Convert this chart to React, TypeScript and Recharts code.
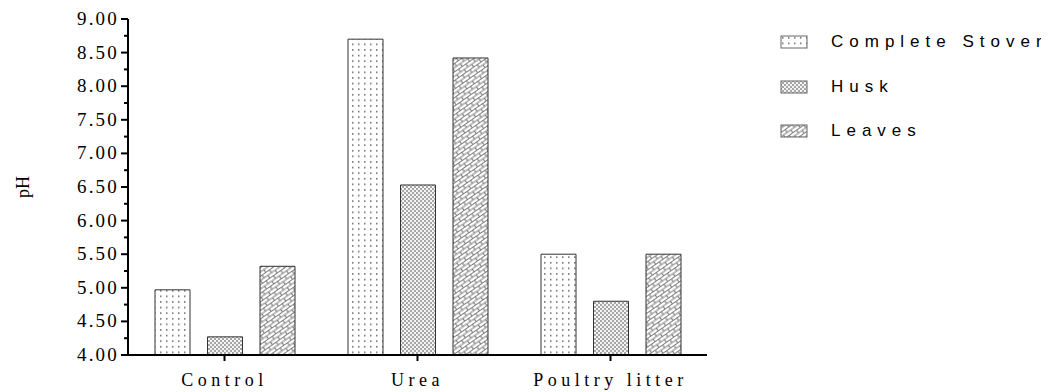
import { BarChart, Bar, XAxis, YAxis, Legend } from 'recharts';

const categories = ['Control', 'Urea', 'Poultry litter'];
const completeStover = [4.97, 8.7, 5.5];
const husk = [4.27, 6.53, 4.8];
const leaves = [5.32, 8.42, 5.5];
const yTicks = [4, 4.25, 4.5, 4.75, 5, 5.25, 5.5, 5.75, 6, 6.25, 6.5, 6.75, 7, 7.25, 7.5, 7.75, 8, 8.25, 8.5, 8.75, 9];

const SERIES = [
  { key: 'stover', name: 'Complete Stover', fill: 'url(#dots)' },
  { key: 'husk', name: 'Husk', fill: 'url(#checker)' },
  { key: 'leaves', name: 'Leaves', fill: 'url(#bricks)' },
];

const data = categories.map((name, i) => ({
  name,
  stover: completeStover[i],
  husk: husk[i],
  leaves: leaves[i],
}));

const SERIF = '"Liberation Serif", "Times New Roman", serif';
const SANS = '"Liberation Sans", Arial, sans-serif';

function Patterns() {
  return (
    <svg width={0} height={0} style={{ position: 'absolute' }}>
      <defs>
        <pattern id="dots" width={6} height={5.6} patternUnits="userSpaceOnUse">
          <rect width={6} height={5.6} fill="#fff" />
          <rect x={2} y={2} width={1.5} height={1.5} fill="#666" />
        </pattern>
        <pattern id="checker" width={4} height={4} patternUnits="userSpaceOnUse">
          <rect width={4} height={4} fill="#f4f4f4" />
          <rect width={2} height={2} fill="#a6a6a6" />
          <rect x={2} y={2} width={2} height={2} fill="#a6a6a6" />
        </pattern>
        <pattern
          id="bricks"
          width={9}
          height={7}
          patternUnits="userSpaceOnUse"
          patternTransform="rotate(-35)"
        >
          <rect width={9} height={7} fill="#fff" />
          <path d="M0 0.5H9M0 4H9M1 0.5V4M5.5 4V7.5" stroke="#808080" strokeWidth={1.2} fill="none" />
        </pattern>
      </defs>
    </svg>
  );
}

function YTick({ x, y, payload }: any) {
  const axisX = x + 10;
  const major = Math.abs((payload.value * 2) % 1) < 1e-6;
  return (
    <g>
      <line x1={axisX - (major ? 7 : 4)} x2={axisX} y1={y} y2={y} stroke="#000" strokeWidth={2} />
      {major && (
        <text
          x={axisX - 9}
          y={y}
          dy={6}
          textAnchor="end"
          fill="#000"
          style={{ fontFamily: SERIF, fontSize: 19, letterSpacing: 2.2 }}
        >
          {payload.value.toFixed(2)}
        </text>
      )}
    </g>
  );
}

function LegendBox() {
  return (
    <div>
      {SERIES.map((s) => (
        <div key={s.key} style={{ display: 'flex', alignItems: 'center', height: 44.5 }}>
          <svg width={28} height={14} style={{ marginRight: 23 }}>
            <rect x={1} y={1} width={26} height={12} fill={s.fill} stroke="#666" strokeWidth={1} />
          </svg>
          <span
            style={{
              fontFamily: SANS,
              fontSize: 17,
              letterSpacing: 6,
              color: '#000',
              whiteSpace: 'nowrap',
            }}
          >
            {s.name}
          </span>
        </div>
      ))}
    </div>
  );
}

export default function App() {
  return (
    <div style={{ position: 'relative' }}>
      <Patterns />
      <BarChart
        width={1041}
        height={384}
        data={data}
        margin={{ top: 11, right: 342, bottom: 0, left: 0 }}
        barSize={35}
        barGap={17.5}
      >
        <XAxis
          dataKey="name"
          height={37}
          axisLine={{ stroke: '#000', strokeWidth: 2 }}
          tickLine={{ stroke: '#000', strokeWidth: 2 }}
          tickSize={6}
          tickMargin={12}
          tick={{ fill: '#000', style: { fontFamily: SERIF, fontSize: 18, letterSpacing: 4.5 } }}
        />
        <YAxis
          width={120}
          domain={[4, 9]}
          ticks={yTicks}
          interval={0}
          allowDataOverflow
          axisLine={{ stroke: '#000', strokeWidth: 2 }}
          tickLine={false}
          tickSize={6}
          tickMargin={4}
          tick={<YTick />}
          label={{
            value: 'pH',
            angle: -90,
            position: 'insideLeft',
            offset: 15,
            style: { fontFamily: SERIF, fontSize: 18, fill: '#000', textAnchor: 'middle' },
          }}
        />
        <Legend
          layout="vertical"
          align="center"
          verticalAlign="middle"
          wrapperStyle={{ top: 12, left: 772, width: 269 }}
          content={() => <LegendBox />}
        />
        {SERIES.map((s) => (
          <Bar
            key={s.key}
            dataKey={s.key}
            name={s.name}
            fill={s.fill}
            stroke="#333"
            strokeWidth={1}
            isAnimationActive={false}
          />
        ))}
      </BarChart>
    </div>
  );
}
